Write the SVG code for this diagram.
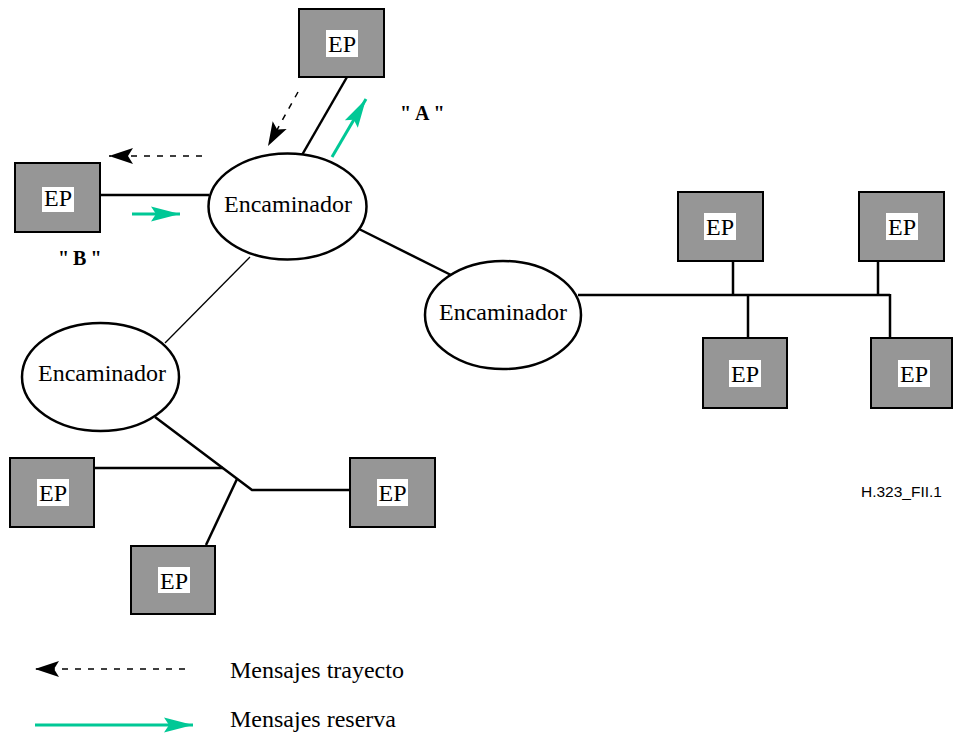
<svg xmlns="http://www.w3.org/2000/svg" width="953" height="733" viewBox="0 0 953 733">
<style>
.ep rect.b{fill:#969696;stroke:#000;stroke-width:2}
.ep rect.w{fill:#fff}
.t{font-family:"Liberation Serif","Times New Roman",serif;font-size:24px;fill:#000}
.m{text-anchor:middle}
.ell{fill:#fff;stroke:#000;stroke-width:2.5}
.ln{stroke:#000;stroke-width:2.5;fill:none}
.thin{stroke:#000;stroke-width:1.3;fill:none}
.dash{stroke:#000;stroke-width:1.5;stroke-dasharray:6 7;fill:none}
.grn{stroke:#00C896;stroke-width:3;fill:none}
.lbl{font-family:"Liberation Serif","Times New Roman",serif;font-size:20px;font-weight:bold;letter-spacing:4px}
.fig{font-family:"Liberation Sans",Arial,sans-serif;font-size:15.5px}
</style>
<defs>
<marker id="ab" markerUnits="userSpaceOnUse" markerWidth="26" markerHeight="18" refX="24" refY="8" orient="auto" overflow="visible">
<path d="M0,0 L24,8 L0,16 L5,8 z" fill="#000"/>
</marker>
<marker id="ag" markerUnits="userSpaceOnUse" markerWidth="30" markerHeight="16" refX="29" refY="7.5" orient="auto" overflow="visible">
<path d="M0,0 L29,7.5 L0,15 L5,7.5 z" fill="#00C896"/>
</marker>
</defs>

<g id="connectors">
<line class="ln" x1="100" y1="195" x2="209" y2="195"/>
<line class="ln" x1="347" y1="77" x2="302" y2="155"/>
<line class="ln" x1="359" y1="229" x2="451" y2="275"/>
<line class="thin" x1="250" y1="257" x2="165" y2="343"/>
<line class="ln" x1="578" y1="295" x2="890" y2="295"/>
<line class="ln" x1="733" y1="261" x2="733" y2="295"/>
<line class="ln" x1="748" y1="295" x2="748" y2="338"/>
<line class="ln" x1="878" y1="261" x2="878" y2="295"/>
<line class="ln" x1="890" y1="294" x2="890" y2="338"/>
<polyline class="ln" points="155,417 252,490 350,490"/>
<line class="ln" x1="94" y1="468" x2="223" y2="468"/>
<line class="ln" x1="206" y1="545" x2="237" y2="479"/>
</g>

<g id="arrows">
<line class="dash" x1="298" y1="92" x2="268" y2="146" marker-end="url(#ab)"/>
<line class="dash" x1="202" y1="156" x2="109" y2="156" marker-end="url(#ab)"/>
<line class="grn" x1="332" y1="157" x2="366" y2="99" marker-end="url(#ag)"/>
<line class="grn" x1="132" y1="214" x2="180" y2="214" marker-end="url(#ag)"/>
</g>

<g id="router1"><ellipse class="ell" cx="287.5" cy="206.5" rx="79" ry="53"/><text class="t m" x="288" y="212">Encaminador</text></g>
<g id="router2"><ellipse class="ell" cx="503" cy="315" rx="78" ry="54"/><text class="t m" x="503" y="320">Encaminador</text></g>
<g id="router3"><ellipse class="ell" cx="100.5" cy="377" rx="78.5" ry="54"/><text class="t m" x="102" y="381">Encaminador</text></g>

<g id="ep-top" class="ep"><rect class="b" x="299" y="9" width="85" height="68"/><rect class="w" x="326" y="30" width="32" height="27"/><text class="t m" x="342" y="52">EP</text></g>
<g id="ep-left" class="ep"><rect class="b" x="15" y="163" width="85" height="69"/><rect class="w" x="42" y="187" width="32" height="25"/><text class="t m" x="58" y="206">EP</text></g>
<g id="ep-r1" class="ep"><rect class="b" x="678" y="192" width="85" height="69"/><rect class="w" x="704" y="213" width="32" height="27"/><text class="t m" x="720" y="235">EP</text></g>
<g id="ep-r2" class="ep"><rect class="b" x="859" y="192" width="85" height="69"/><rect class="w" x="886" y="213" width="32" height="27"/><text class="t m" x="902" y="235">EP</text></g>
<g id="ep-r3" class="ep"><rect class="b" x="703" y="338" width="84" height="70"/><rect class="w" x="729" y="360" width="32" height="27"/><text class="t m" x="745" y="382">EP</text></g>
<g id="ep-r4" class="ep"><rect class="b" x="871" y="338" width="81" height="70"/><rect class="w" x="898" y="360" width="32" height="27"/><text class="t m" x="914" y="382">EP</text></g>
<g id="ep-b1" class="ep"><rect class="b" x="10" y="458" width="84" height="69"/><rect class="w" x="37" y="479" width="32" height="27"/><text class="t m" x="53" y="501">EP</text></g>
<g id="ep-b2" class="ep"><rect class="b" x="131" y="546" width="84" height="68"/><rect class="w" x="158" y="567" width="32" height="26"/><text class="t m" x="174" y="589">EP</text></g>
<g id="ep-b3" class="ep"><rect class="b" x="350" y="458" width="85" height="69"/><rect class="w" x="377" y="479" width="31" height="27"/><text class="t m" x="392.5" y="501">EP</text></g>

<g id="labels">
<text class="lbl" x="400" y="120">"A"</text>
<text class="lbl" x="58" y="265">"B"</text>
<text class="fig" x="861" y="497">H.323_FII.1</text>
</g>

<g id="legend">
<line class="dash" x1="185" y1="669" x2="35" y2="669" marker-end="url(#ab)"/>
<text class="t" x="230" y="678">Mensajes trayecto</text>
<line class="grn" x1="35" y1="725" x2="193" y2="725" marker-end="url(#ag)"/>
<text class="t" x="230" y="727">Mensajes reserva</text>
</g>
</svg>
